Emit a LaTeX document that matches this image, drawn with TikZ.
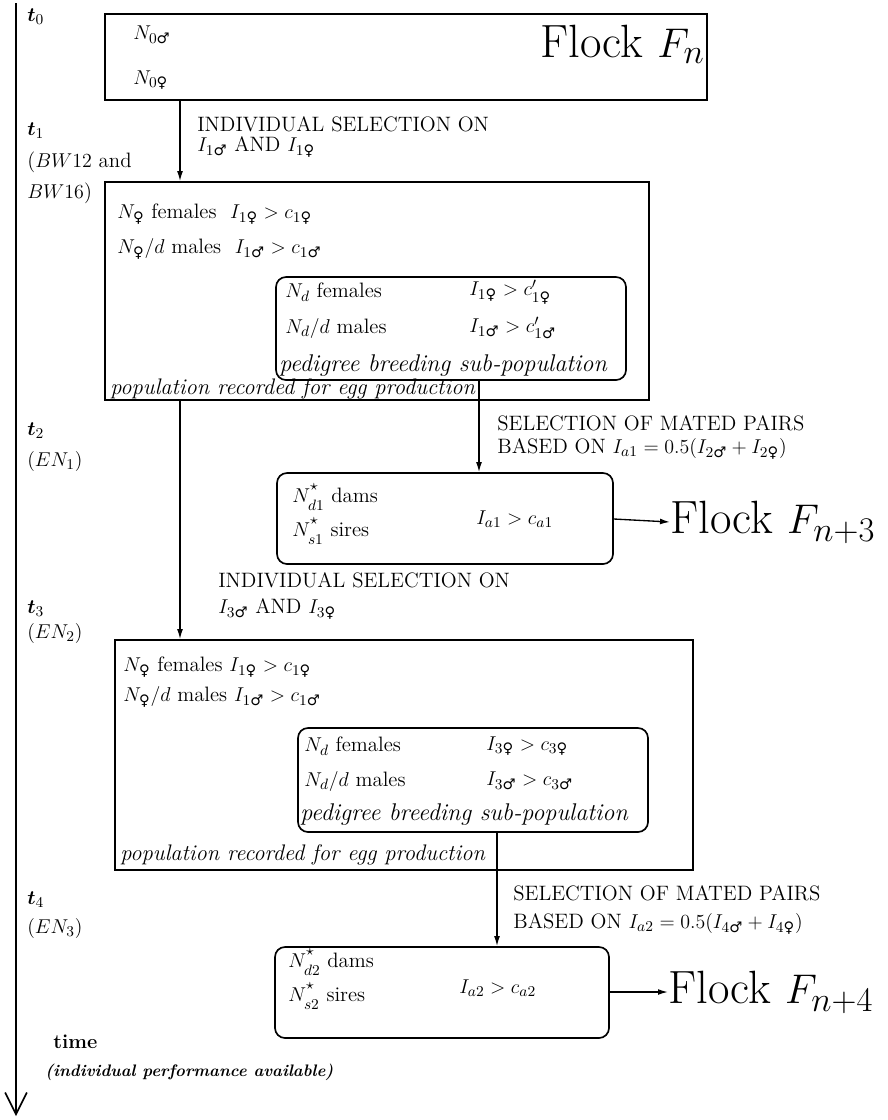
\documentclass[tikz,border=0pt]{standalone}
\usepackage{amsmath}
\usepackage{fontspec}
\newfontfamily\symf{DejaVu Sans}
\usetikzlibrary{arrows.meta,fit}
\newcommand{\Ma}{\text{\symf\char"2642}}
\newcommand{\Fe}{\text{\symf\char"2640}}
\newcommand{\Nst}[1]{N^{\raisebox{0.25em}{$\scriptstyle\star$}}_{\raisebox{-0.15em}{$\scriptstyle #1$}}}
\tikzset{
  box/.style={draw, line width=1pt, inner sep=0pt},
  rbox/.style={box, rounded corners=6pt},
  txt/.style={anchor=west, inner sep=0pt, font=\fontsize{12.5}{14}\selectfont},
  itx/.style={anchor=west, inner sep=0pt, font=\fontsize{13.5}{16}\selectfont\itshape},
  pedtxt/.style={anchor=west, inner sep=0pt, font=\fontsize{14.5}{16}\selectfont\itshape},
  captxt/.style={anchor=west, inner sep=0pt, font=\fontsize{12.5}{14}\selectfont},
  pairtxt/.style={anchor=west, inner sep=0pt, align=left, font=\fontsize{12.5}{20.5}\selectfont},
  big/.style={inner sep=0pt, font=\fontsize{28}{32}\selectfont},
  arr/.style={-{Latex[length=6pt,width=3.5pt]}, line width=0.8pt},
}
\begin{document}
\begin{tikzpicture}[x=0.6pt,y=-0.6pt]
\useasboundingbox (0,0) rectangle (888,1120);
% timeline
\coordinate (tl0) at (16,3);
\coordinate (tl1) at (16,1116);
\draw[line width=1pt, -{Straight Barb[length=13pt,width=13pt,line width=1pt]}] (tl0) -- (tl1);
\node[txt] (t0) at (27,17) {$\boldsymbol{t}_0$};
\node[txt] (t1) at (27,131) {$\boldsymbol{t}_1$};
\node[txt] (t1a) at (27,162) {($BW12$ and};
\node[txt] (t1b) at (27,193) {$BW16$)};
\node[txt] (t2) at (27,431) {$\boldsymbol{t}_2$};
\node[txt] (t2a) at (27,461) {$(EN_1)$};
\node[txt] (t3) at (27,609) {$\boldsymbol{t}_3$};
\node[txt] (t3a) at (27,633) {$(EN_2)$};
\node[txt] (t4) at (27,900) {$\boldsymbol{t}_4$};
\node[txt] (t4a) at (27,928) {$(EN_3)$};
\node[txt, font=\fontsize{12}{14}\selectfont] (time) at (53,1042) {\bfseries time};
\node[txt, font=\fontsize{10}{12}\selectfont] (perf) at (45,1072) {\bfseries\itshape (individual performance available)};
% box 1
\node[box, fit={(105,14) (707,100)}] (b1) {};
\node[txt] (n0m) at (133,35) {$N_{0\Ma}$};
\node[txt] (n0f) at (133,80) {$N_{0\Fe}$};
\node[big, anchor=east] (fn) at (705,44) {Flock $F_n$};
% arrow 1
\coordinate (xa) at (180,0);
\node[box, fit={(105,182) (649,400)}] (b2) {};
\draw[arr] (b1.south -| xa) -- (b2.north -| xa);
\node[captxt] (s1a) at (197,124) {INDIVIDUAL SELECTION ON};
\node[captxt] (s1b) at (197,147) {$I_{1\Ma}$ AND $I_{1\Fe}$};
% box 2 contents
\node[txt] (b2l1) at (117,214) {$N_{\Fe}$ females\ \ $I_{1\Fe} > c_{1\Fe}$};
\node[txt] (b2l2) at (117,249) {$N_{\Fe}/d$ males\ \ $I_{1\Ma} > c_{1\Ma}$};
\node[rbox, fit={(276,277) (626,380)}] (p2) {};
\node[txt] (p2a) at (285,292) {$N_d$ females};
\node[txt] (p2b) at (469,292) {$I_{1\Fe} > c'_{1\Fe}$};
\node[txt] (p2c) at (285,328) {$N_d/d$ males};
\node[txt] (p2d) at (469,328) {$I_{1\Ma} > c'_{1\Ma}$};
\node[pedtxt] (p2e) at (279,366) {pedigree breeding sub-population};
\node[itx] (r2) at (110,389) {population recorded for egg production};
% box 3
\node[rbox, fit={(277,473) (613,564)}] (b3) {};
\coordinate (xb) at (479,0);
\draw[arr] (p2.south -| xb) -- (b3.north -| xb);
\node[captxt] (s2a) at (497,423) {SELECTION OF MATED PAIRS};
\node[captxt] (s2b) at (497,449) {BASED ON $I_{a1} = 0.5(I_{2\Ma} + I_{2\Fe})$};
\node[pairtxt] (b3a) at (292,514) {$\Nst{d1}$ dams\\$\Nst{s1}$ sires};
\node[txt] (b3c) at (476,519) {$I_{a1} > c_{a1}$};
\node[big, anchor=west] (fn3) at (670,522) {Flock $F_{n+3}$};
\draw[arr] (b3.east |- b3c) -- (fn3.west);
% second selection
\node[captxt] (s3a) at (218,580) {INDIVIDUAL SELECTION ON};
\node[captxt] (s3b) at (218,609) {$I_{3\Ma}$ AND $I_{3\Fe}$};
% box 4
\node[box, fit={(115,640) (693,870)}] (b4) {};
\draw[arr] (b2.south -| xa) -- (b4.north -| xa);
\node[txt] (b4l1) at (123,667) {$N_{\Fe}$ females $I_{1\Fe} > c_{1\Fe}$};
\node[txt] (b4l2) at (123,697) {$N_{\Fe}/d$ males $I_{1\Ma} > c_{1\Ma}$};
\node[rbox, fit={(298,728) (648,832)}] (p4) {};
\node[txt] (p4a) at (304,746) {$N_d$ females};
\node[txt] (p4b) at (486,746) {$I_{3\Fe} > c_{3\Fe}$};
\node[txt] (p4c) at (304,781) {$N_d/d$ males};
\node[txt] (p4d) at (486,781) {$I_{3\Ma} > c_{3\Ma}$};
\node[pedtxt] (p4e) at (300,815) {pedigree breeding sub-population};
\node[itx] (r4) at (120,855) {population recorded for egg production};
% box 5
\node[rbox, fit={(275,947) (609,1038)}] (b5) {};
\coordinate (xc) at (497,0);
\draw[arr] (p4.south -| xc) -- (b5.north -| xc);
\node[captxt] (s4a) at (513,893) {SELECTION OF MATED PAIRS};
\node[captxt] (s4b) at (513,924) {BASED ON $I_{a2} = 0.5(I_{4\Ma} + I_{4\Fe})$};
\node[pairtxt] (b5a) at (288,979) {$\Nst{d2}$ dams\\$\Nst{s2}$ sires};
\node[txt] (b5c) at (459,988) {$I_{a2} > c_{a2}$};
\node[big, anchor=west] (fn4) at (668,992) {Flock $F_{n+4}$};
\draw[arr] (b5.east |- fn4) -- (fn4.west);
\end{tikzpicture}
\end{document}
